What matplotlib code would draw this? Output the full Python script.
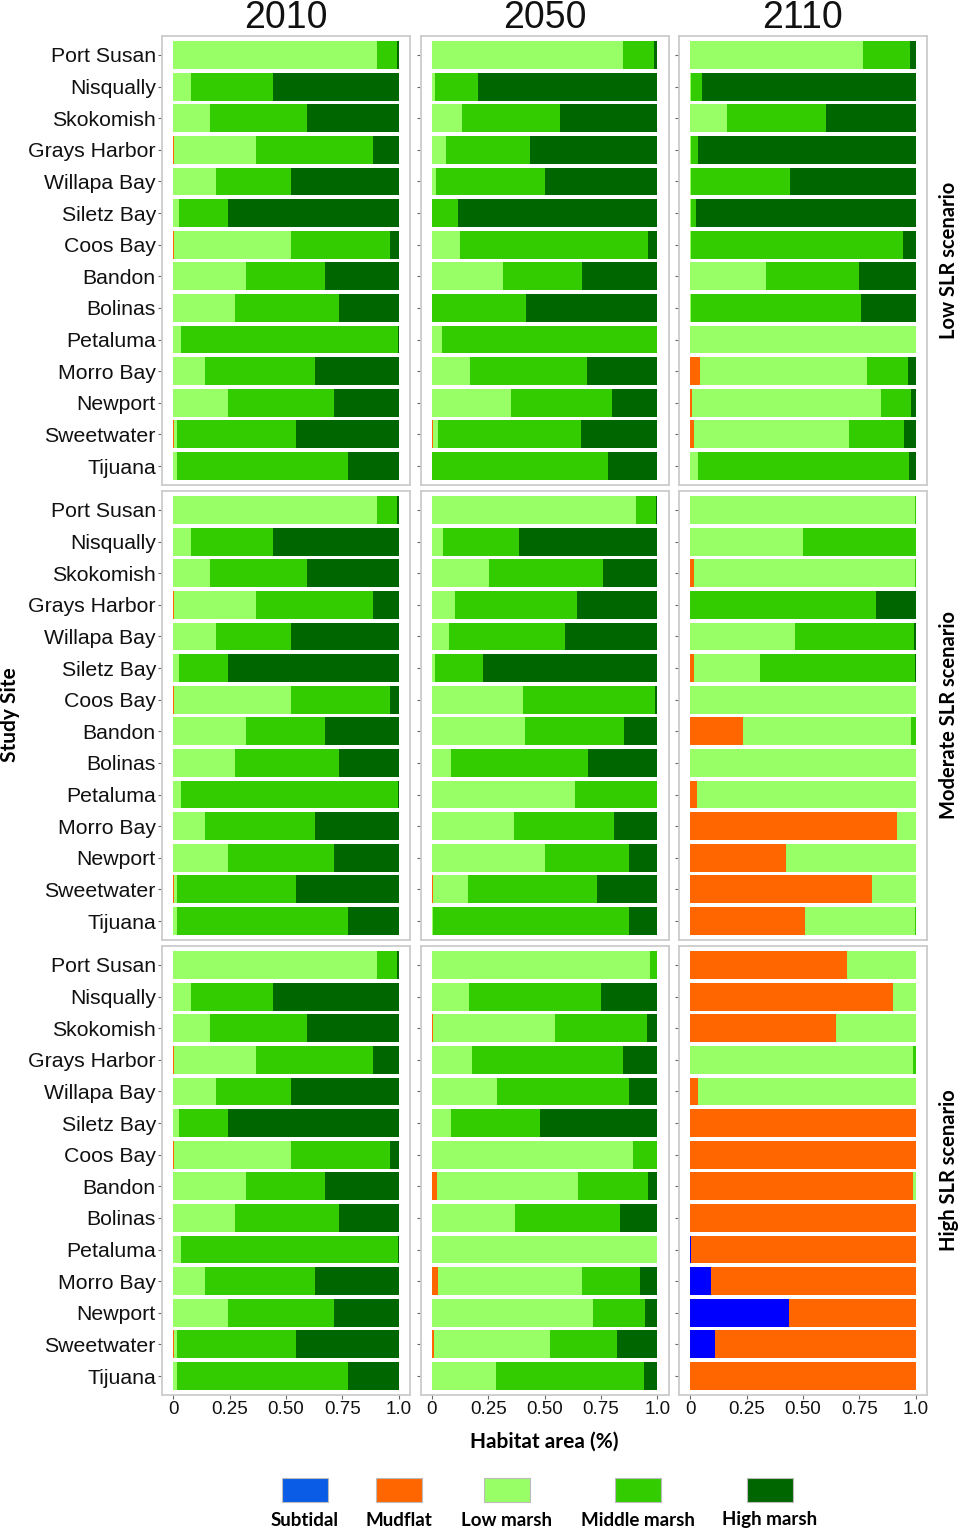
import numpy as np
import matplotlib
matplotlib.use("Agg")
import matplotlib.pyplot as plt
from matplotlib.patches import Rectangle

plt.rcParams['font.family'] = ['Liberation Sans', 'DejaVu Sans']

sites = ["Port Susan", "Nisqually", "Skokomish", "Grays Harbor", "Willapa Bay",
         "Siletz Bay", "Coos Bay", "Bandon", "Bolinas", "Petaluma", "Morro Bay",
         "Newport", "Sweetwater", "Tijuana"]
years = ["2010", "2050", "2110"]
scenarios = ["Low SLR scenario", "Moderate SLR scenario", "High SLR scenario"]
categories = ["Subtidal", "Mudflat", "Low marsh", "Middle marsh", "High marsh"]
bar_colors = ["#0000FF", "#FF6600", "#99FF66", "#33CC00", "#006600"]
legend_colors = ["#0A5CE6", "#FF6600", "#99FF66", "#33CC00", "#006600"]
x_ticks = [0, 0.25, 0.5, 0.75, 1.0]
x_ticklabels = ["0", "0.25", "0.50", "0.75", "1.0"]

# fractions per site: subtidal, mudflat, low, middle, high
base_2010 = [
    [0, 0, 0.904, 0.089, 0.007],
    [0, 0, 0.080, 0.362, 0.558],
    [0, 0, 0.162, 0.433, 0.405],
    [0, 0.003, 0.362, 0.521, 0.114],
    [0, 0, 0.190, 0.334, 0.476],
    [0, 0, 0.027, 0.217, 0.756],
    [0, 0.003, 0.517, 0.443, 0.037],
    [0, 0, 0.323, 0.348, 0.329],
    [0, 0, 0.276, 0.458, 0.266],
    [0, 0, 0.035, 0.961, 0.004],
    [0, 0, 0.139, 0.490, 0.371],
    [0, 0, 0.241, 0.472, 0.287],
    [0, 0.005, 0.011, 0.529, 0.455],
    [0, 0, 0.016, 0.759, 0.225],
]

low_2050 = [
    [0, 0, 0.849, 0.135, 0.016],
    [0, 0, 0.015, 0.189, 0.796],
    [0, 0, 0.134, 0.436, 0.430],
    [0, 0, 0.064, 0.372, 0.564],
    [0, 0, 0.018, 0.483, 0.499],
    [0, 0, 0.002, 0.115, 0.883],
    [0, 0, 0.127, 0.833, 0.040],
    [0, 0, 0.315, 0.351, 0.334],
    [0, 0, 0.002, 0.416, 0.582],
    [0, 0, 0.047, 0.953, 0],
    [0, 0, 0.170, 0.517, 0.313],
    [0, 0, 0.352, 0.446, 0.202],
    [0, 0.004, 0.023, 0.635, 0.338],
    [0, 0, 0.002, 0.778, 0.220],
]

low_2110 = [
    [0, 0, 0.768, 0.205, 0.027],
    [0, 0, 0.002, 0.048, 0.950],
    [0, 0, 0.162, 0.442, 0.396],
    [0, 0, 0.002, 0.032, 0.966],
    [0, 0, 0.002, 0.441, 0.557],
    [0, 0, 0.002, 0.025, 0.973],
    [0, 0, 0.002, 0.943, 0.055],
    [0, 0, 0.335, 0.414, 0.251],
    [0, 0, 0.002, 0.756, 0.242],
    [0, 0, 1.0, 0, 0],
    [0, 0.044, 0.742, 0.179, 0.035],
    [0, 0.006, 0.840, 0.133, 0.021],
    [0, 0.015, 0.688, 0.247, 0.050],
    [0, 0, 0.035, 0.934, 0.031],
]

mod_2050 = [
    [0, 0, 0.904, 0.090, 0.006],
    [0, 0, 0.050, 0.338, 0.612],
    [0, 0, 0.253, 0.508, 0.239],
    [0, 0, 0.103, 0.540, 0.357],
    [0, 0, 0.078, 0.514, 0.408],
    [0, 0, 0.013, 0.213, 0.774],
    [0, 0, 0.405, 0.586, 0.009],
    [0, 0, 0.412, 0.439, 0.149],
    [0, 0, 0.086, 0.608, 0.306],
    [0, 0, 0.634, 0.366, 0],
    [0, 0, 0.366, 0.443, 0.191],
    [0, 0, 0.502, 0.371, 0.127],
    [0, 0.004, 0.157, 0.572, 0.267],
    [0, 0, 0.004, 0.872, 0.124],
]

mod_2110 = [
    [0, 0, 0.996, 0.004, 0],
    [0, 0, 0.499, 0.501, 0],
    [0, 0.016, 0.980, 0.004, 0],
    [0, 0, 0, 0.823, 0.177],
    [0, 0, 0.464, 0.529, 0.007],
    [0, 0.016, 0.293, 0.688, 0.003],
    [0, 0, 1.0, 0, 0],
    [0, 0.233, 0.748, 0.019, 0],
    [0, 0, 1.0, 0, 0],
    [0, 0.032, 0.968, 0, 0],
    [0, 0.916, 0.084, 0, 0],
    [0, 0.425, 0.575, 0, 0],
    [0, 0.804, 0.196, 0, 0],
    [0, 0.510, 0.486, 0.004, 0],
]

high_2050 = [
    [0, 0, 0.970, 0.030, 0],
    [0, 0, 0.164, 0.588, 0.248],
    [0, 0.007, 0.538, 0.409, 0.046],
    [0, 0, 0.180, 0.669, 0.151],
    [0, 0, 0.291, 0.586, 0.123],
    [0, 0.002, 0.084, 0.393, 0.521],
    [0, 0, 0.891, 0.109, 0],
    [0, 0.024, 0.623, 0.310, 0.043],
    [0, 0, 0.368, 0.467, 0.165],
    [0, 0, 1.0, 0, 0],
    [0, 0.028, 0.640, 0.254, 0.078],
    [0, 0.002, 0.711, 0.231, 0.056],
    [0, 0.009, 0.517, 0.297, 0.177],
    [0, 0, 0.287, 0.655, 0.058],
]

high_2110 = [
    [0, 0.693, 0.307, 0, 0],
    [0, 0.900, 0.100, 0, 0],
    [0, 0.647, 0.353, 0, 0],
    [0, 0, 0.988, 0.012, 0],
    [0, 0.035, 0.965, 0, 0],
    [0, 1.0, 0, 0, 0],
    [0, 1.0, 0, 0, 0],
    [0, 0.990, 0.010, 0, 0],
    [0, 1.0, 0, 0, 0],
    [0.004, 0.996, 0, 0, 0],
    [0.092, 0.908, 0, 0, 0],
    [0.439, 0.561, 0, 0, 0],
    [0.109, 0.891, 0, 0, 0],
    [0, 1.0, 0, 0, 0],
]

panels = [
    [base_2010, low_2050, low_2110],
    [base_2010, mod_2050, mod_2110],
    [base_2010, high_2050, high_2110],
]

W, H = 960, 1531
fig = plt.figure(figsize=(W / 100, H / 100), dpi=100)

col_left = [162, 420.5, 679]
row_top = [36, 491, 946]
pw, ph = 248, 449
y = np.arange(len(sites))[::-1]
grey = "#CCCCCC"

for r in range(3):
    for c in range(3):
        ax = fig.add_axes([col_left[c] / W, 1 - (row_top[r] + ph) / H, pw / W, ph / H])
        vals = np.array(panels[r][c])
        left = np.zeros(len(sites))
        for k, cat in enumerate(categories):
            ax.barh(y, vals[:, k], left=left, height=0.88, color=bar_colors[k],
                    edgecolor="none", linewidth=0)
            left += vals[:, k]
        ax.set_xlim(-0.05, 1.05)
        ax.set_ylim(-0.6, 13.6)
        for s in ax.spines.values():
            s.set_color(grey)
            s.set_linewidth(1.3)
        ax.tick_params(axis="both", color="#666666", length=3, width=0.8, pad=1.5)
        ax.set_yticks(y)
        if c == 0:
            ax.set_yticklabels(sites, fontsize=15.3, color="#111111")
        else:
            ax.set_yticklabels([])
        ax.set_xticks(x_ticks)
        if r == 2:
            ax.set_xticklabels(x_ticklabels, fontsize=13.5, color="#111111")
        else:
            ax.tick_params(axis="x", length=0)
            ax.set_xticklabels([])
        if r == 0:
            ax.set_title(years[c], fontsize=27, pad=2, color="#111111")
        if c == 2:
            ax.text(1.09, 0.5, scenarios[r], transform=ax.transAxes, rotation=90,
                    ha="center", va="center", fontsize=14.5, fontweight="bold",
                    family=["Lato", "DejaVu Sans"])

fig.text(10 / W, 1 - 715 / H, "Study Site", rotation=90, ha="center", va="center",
         fontsize=15, fontweight="bold", family=["Lato", "DejaVu Sans"])
fig.text(544 / W, 1 - 1442 / H, "Habitat area (%)", ha="center", va="center",
         fontsize=15, fontweight="bold", family=["Lato", "DejaVu Sans"])

# legend drawn by hand: key above label
key_x = [305, 399, 507, 638, 770]
for k, cat in enumerate(categories):
    fig.patches.append(Rectangle(((key_x[k] - 23) / W, 1 - 1502 / H), 46 / W, 24 / H,
                                 transform=fig.transFigure, facecolor=legend_colors[k],
                                 edgecolor="#BBBBBB", linewidth=0.8))
    fig.text(key_x[k] / W, 1 - 1520 / H, cat, ha="center", va="center",
             fontsize=13.5, fontweight="bold", family=["Lato", "DejaVu Sans"])

fig.savefig("out.png", dpi=100)
